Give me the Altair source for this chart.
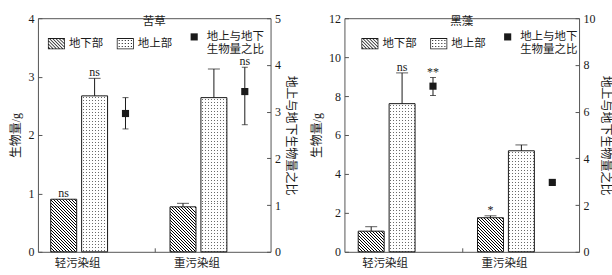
import math
import altair as alt
import pandas as pd

FONT = "Liberation Serif, Noto Sans CJK SC"
INK = "#1a1a1a"
LINE = "#555555"

# ---------------- data ----------------
groups = ["轻污染组", "重污染组"]
parts = ["地下部", "地上部", "地上与地下生物量之比"]

# 苦草
kc_below = [0.90, 0.77]
kc_below_err = [0.00, 0.06]
kc_above = [2.67, 2.64]
kc_above_err = [0.30, 0.49]
kc_ratio = [2.96, 3.43]
kc_ratio_lo = [2.63, 2.72]
kc_ratio_hi = [3.30, 3.95]
kc_sig_below = ["ns", ""]
kc_sig_above = ["ns", ""]
kc_sig_ratio = ["", "ns"]
kc_left_ticks = [0, 1, 2, 3, 4]
kc_right_ticks = [0, 1, 2, 3, 4, 5]

# 黑藻
hz_below = [1.06, 1.75]
hz_below_err = [0.23, 0.10]
hz_above = [7.61, 5.19]
hz_above_err = [1.58, 0.30]
hz_ratio = [7.09, 2.97]
hz_ratio_lo = [6.69, 2.97]
hz_ratio_hi = [7.46, 2.97]
hz_sig_below = ["", "*"]
hz_sig_above = ["ns", ""]
hz_sig_ratio = ["**", ""]
hz_left_ticks = [0, 2, 4, 6, 8, 10, 12]
hz_right_ticks = [0, 2, 4, 6, 8, 10]

# ---------------- layout / style ----------------
H = 234
GAP = 74
BAR_W = 26.0
P_IN = 0.16
BAND = 119.5


def fmt(v):
    return f"{v:.3f}".rstrip("0").rstrip(".") if abs(v) > 1e-9 else "0"


def poly(pts):
    return "M" + "L".join(f"{fmt(x)},{fmt(y)}" for x, y in pts) + "Z"


def clip(pts, a, b, c):
    """keep part of polygon where a*x + b*y <= c"""
    out = []
    n = len(pts)
    for i in range(n):
        p, q = pts[i], pts[(i + 1) % n]
        fp = a * p[0] + b * p[1] - c
        fq = a * q[0] + b * q[1] - c
        if fp <= 0:
            out.append(p)
        if (fp < 0 < fq) or (fq < 0 < fp):
            t = fp / (fp - fq)
            out.append((p[0] + t * (q[0] - p[0]), p[1] + t * (q[1] - p[1])))
    return out


HW, HH, FR = 1.0, 0.65, 0.09


def frame_path():
    outer = f"M{-HW},{-HH}H{HW}V{HH}H{-HW}Z"
    ihw, ihh = HW - FR, HH - FR
    inner = f"M{fmt(-ihw)},{fmt(-ihh)}V{fmt(ihh)}H{fmt(ihw)}V{fmt(-ihh)}Z"
    return outer + inner


def hatch_symbol(step=0.38, th=0.13):
    ihw, ihh = HW - FR, HH - FR
    box = [(-ihw, -ihh), (ihw, -ihh), (ihw, ihh), (-ihw, ihh)]
    d = frame_path()
    c = -(ihw + ihh) + 0.05
    while c < ihw + ihh:
        p = clip(box, 1, -1, c + th)
        p = clip(p, -1, 1, -c) if p else p
        if len(p) >= 3:
            d += poly(p)
        c += step
    return d


def dot_symbol(step=0.36, s=0.12):
    d = frame_path()
    y = -HH + 0.22
    while y < HH - 0.2:
        x = -HW + 0.22
        while x < HW - 0.2:
            d += f"M{fmt(x)},{fmt(y)}h{s}v{s}h{-s}Z"
            x += step
        y += step
    return d


SQUARE = "M-0.42,-0.42H0.42V0.42H-0.42Z"


def stripes(n, frac, on, off, phase=0.3):
    stops = [{"offset": 0, "color": off}]
    i = 0
    while True:
        a = (i + phase) / n
        if a >= 1:
            break
        b = min(1.0, (i + phase + frac) / n)
        a = round(a, 5)
        b = round(b, 5)
        stops += [
            {"offset": a, "color": off},
            {"offset": a, "color": on},
            {"offset": b, "color": on},
            {"offset": b, "color": off},
        ]
        i += 1
    stops.append({"offset": 1, "color": off})
    return stops


def hatch_fill(w, h, hperiod=3.0):
    r = h / w
    vx = (1 + r) / (1 + r * r)
    vy = -vx * r
    n = (w + h) / hperiod
    return {"gradient": "linear", "x1": 0, "y1": 1, "x2": round(vx, 6),
            "y2": round(1 + vy, 6), "stops": stripes(n, 1 / hperiod, "#000000", "white")}


def vstripe_fill(w, period=3.0):
    return {"gradient": "linear", "x1": 0, "y1": 0, "x2": 1, "y2": 0,
            "stops": stripes(w / period, 1 / period, "#6a6a6a", "white", 0.35)}


def hmask_fill(h, period=3.0):
    return {"gradient": "linear", "x1": 0, "y1": 0, "x2": 0, "y2": 1,
            "stops": stripes(h / period, 1 / period, "rgba(255,255,255,0)", "white", 0.35)}


def panel(name, below, below_err, above, above_err, ratio, r_lo, r_hi,
          sig_b, sig_a, sig_r, lticks, rticks, W, legend_x):
    bars = pd.DataFrame({
        "group": groups * 2,
        "part": [parts[0]] * 2 + [parts[1]] * 2,
        "value": below + above,
        "err": below_err + above_err,
        "sig": sig_b + sig_a,
    })
    bars["top"] = bars["value"] + bars["err"]
    rat = pd.DataFrame({"group": groups, "part": [parts[2]] * 2, "value": ratio,
                        "lo": r_lo, "hi": r_hi, "sig": sig_r})

    step = BAR_W / (1 - P_IN)
    p_out = (BAND / step - 3 + P_IN) / 2
    ymax_l = lticks[-1]
    ymax_r = rticks[-1]

    xscale = alt.Scale(domain=groups, paddingInner=0, paddingOuter=0,
                       range=[W / 2 - BAND, W / 2 + BAND])
    xoff = alt.XOffset("part:N", scale=alt.Scale(domain=parts, paddingInner=P_IN, paddingOuter=p_out))
    x_main = alt.X("group:N", scale=xscale,
                   axis=alt.Axis(title=None, ticks=False, tickSize=0, domain=False, labelAngle=0,
                                 labelOffset=-17, labelPadding=6, labelFontSize=11.5))
    x_none = alt.X("group:N", scale=xscale, axis=None)

    yl_scale = alt.Scale(domain=[0, ymax_l], nice=False, zero=True)
    yr_scale = alt.Scale(domain=[0, ymax_r], nice=False, zero=True)
    yl_axis = alt.Axis(title="生物量/g", orient="left", values=lticks, ticks=False, tickSize=0,
                       domain=False, labelPadding=4, titlePadding=5, format="d")
    yr_axis = alt.Axis(title="地上与地下生物量之比", orient="right", values=rticks, ticks=False,
                       tickSize=0, domain=False, labelPadding=4, titlePadding=3, format="d")

    layers = []
    first = True
    for gi, g in enumerate(groups):
        for k, p in enumerate(parts[:2]):
            v = (below, above)[k][gi]
            h = v / ymax_l * H
            base = alt.Chart(bars).transform_filter(
                f"datum.group == '{g}' && datum.part == '{p}'")
            enc = dict(x=x_main if first else x_none, xOffset=xoff,
                       y=alt.Y("value:Q", scale=yl_scale, axis=yl_axis if first else None))
            first = False
            if k == 0:
                layers.append(base.mark_bar(fill=hatch_fill(BAR_W, h), stroke=INK,
                                            strokeWidth=1).encode(**enc))
            else:
                layers.append(base.mark_bar(fill=vstripe_fill(BAR_W)).encode(**enc))
                layers.append(base.mark_bar(fill=hmask_fill(h), stroke=INK,
                                            strokeWidth=1).encode(**enc))

    errs = alt.Chart(bars).transform_filter("datum.err > 0")
    layers.append(errs.mark_rule(color=INK, strokeWidth=1).encode(
        x=x_none, xOffset=xoff, y=alt.Y("value:Q", scale=yl_scale, axis=None), y2="top:Q"))
    layers.append(errs.mark_tick(color=INK, thickness=1, size=12).encode(
        x=x_none, xOffset=xoff, y=alt.Y("top:Q", scale=yl_scale, axis=None)))
    layers.append(alt.Chart(bars).transform_filter("datum.sig != ''").mark_text(
        font=FONT, fontSize=12, color=INK, baseline="alphabetic", dy=-2).encode(
        x=x_none, xOffset=xoff, y=alt.Y("top:Q", scale=yl_scale, axis=None), text="sig:N"))

    leg = alt.Legend(title=None, orient="none", legendX=legend_x, legendY=10,
                     direction="horizontal",
                     labelFont=FONT, labelFontSize=11.5, labelColor=INK, labelOffset=4,
                     columnPadding=13, symbolSize=289, symbolFillColor=INK, symbolStrokeWidth=0,
                     padding=0,
                     labelExpr="datum.label == '地上与地下生物量之比' ? ['地上与地下', '生物量之比'] : datum.label")

    rb = alt.Chart(rat)
    layers += [
        rb.mark_rule(color=INK, strokeWidth=1).encode(
            x=x_none, xOffset=xoff, y=alt.Y("lo:Q", scale=yr_scale, axis=None), y2="hi:Q"),
        rb.mark_tick(color=INK, thickness=1, size=6).encode(
            x=x_none, xOffset=xoff, y=alt.Y("lo:Q", scale=yr_scale, axis=None)),
        rb.mark_tick(color=INK, thickness=1, size=6).encode(
            x=x_none, xOffset=xoff, y=alt.Y("hi:Q", scale=yr_scale, axis=None)),
        rb.mark_point(filled=True, size=289, opacity=1, color=INK, strokeWidth=0).encode(
            x=x_none, xOffset=xoff, y=alt.Y("value:Q", scale=yr_scale, axis=yr_axis),
            shape=alt.Shape("part:N", scale=alt.Scale(
                domain=parts, range=[hatch_symbol(), dot_symbol(), SQUARE]), legend=leg)),
        rb.transform_filter("datum.sig != ''").mark_text(
            font=FONT, fontSize=12, color=INK, baseline="alphabetic", dy=-2).encode(
            x=x_none, xOffset=xoff, y=alt.Y("hi:Q", scale=yr_scale, axis=None), text="sig:N"),
    ]

    # inward ticks (left edge, bottom middle, right edge)
    layers.append(alt.Chart(bars).mark_point(opacity=0).encode(
        x=alt.X("group:N", scale=xscale,
                axis=alt.Axis(orient="top", offset=-H, labels=False, domain=False, ticks=True,
                              tickSize=4, values=[groups[1]], tickOffset=-BAND / 2,
                              title=None, tickColor=LINE)),
        y=alt.Y("value:Q", scale=yl_scale,
                axis=alt.Axis(orient="right", offset=-W, labels=False, domain=False, ticks=True,
                              tickSize=4, values=lticks, title=None, tickColor=LINE))))
    layers.append(alt.Chart(rat).mark_point(opacity=0).encode(
        x=x_none,
        y=alt.Y("value:Q", scale=yr_scale,
                axis=alt.Axis(orient="left", offset=-W, labels=False, domain=False, ticks=True,
                              tickSize=4, values=rticks, title=None, tickColor=LINE))))

    title = alt.TitleParams(name, offset=-15, font=FONT, fontSize=11.5, fontWeight="normal",
                            color=INK, anchor="middle")
    return alt.layer(*layers).resolve_scale(y="independent").resolve_axis(
        x="independent", y="independent").properties(width=W, height=H, title=title)


kc = panel("苦草", kc_below, kc_below_err, kc_above, kc_above_err, kc_ratio, kc_ratio_lo,
           kc_ratio_hi, kc_sig_below, kc_sig_above, kc_sig_ratio, kc_left_ticks, kc_right_ticks,
           233, 10)
hz = panel("黑藻", hz_below, hz_below_err, hz_above, hz_above_err, hz_ratio, hz_ratio_lo,
           hz_ratio_hi, hz_sig_below, hz_sig_above, hz_sig_ratio, hz_left_ticks, hz_right_ticks,
           235, 17)

chart = alt.hconcat(kc, hz, spacing=GAP, bounds="flush").resolve_scale(
    xOffset="independent", shape="independent").resolve_legend(
    shape="independent").properties(
    padding={"left": 9, "top": 11, "right": 0, "bottom": 0}).configure_view(
    stroke=LINE, strokeWidth=1).configure_axis(
    labelFont=FONT, titleFont=FONT, labelFontSize=12, titleFontSize=12, labelColor=INK,
    titleColor=INK, titleFontWeight="normal", grid=False, tickColor=LINE, domainColor=LINE)

chart.save("out.html", embed_options={"renderer": "svg", "actions": False})
